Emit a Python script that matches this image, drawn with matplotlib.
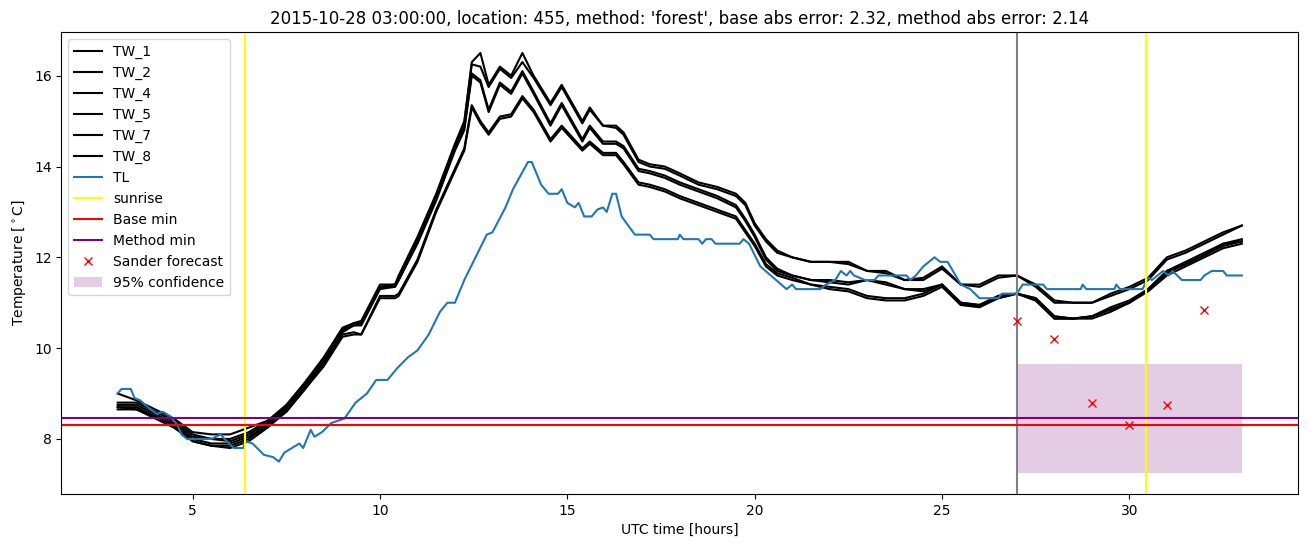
import matplotlib
matplotlib.use("Agg")
import matplotlib.pyplot as plt

title = "2015-10-28 03:00:00, location: 455, method: 'forest', base abs error: 2.32, method abs error: 2.14"

tw_hours = [3.0, 3.5, 4.0, 4.5, 5.0, 5.5, 6.0, 6.5, 7.0, 7.5, 8.0, 8.5, 9.0, 9.3, 9.5,
            10.0, 10.4, 10.5, 11.0, 11.5, 12.0, 12.25, 12.45, 12.68, 12.9, 13.2, 13.5, 13.8,
            14.1, 14.55, 14.85, 15.4, 15.6, 15.95, 16.3, 16.5, 16.9, 17.2, 17.6, 18.0, 18.5,
            19.0, 19.5, 19.75, 20.0, 20.3, 20.6, 21.0, 21.5, 22.0, 22.5, 23.0, 23.5, 24.0,
            24.5, 25.0, 25.5, 26.0, 26.5, 27.0, 27.5, 28.0, 28.5, 29.0, 29.5, 30.0, 30.5,
            31.0, 31.5, 32.0, 32.5, 33.0]

tw_1 = [9.0, 8.85, 8.65, 8.45, 8.15, 8.1, 8.1, 8.25, 8.4, 8.75, 9.25, 9.8, 10.45, 10.55, 10.6,
        11.4, 11.4, 11.6, 12.45, 13.4, 14.5, 15.0, 16.3, 16.5, 15.8, 16.2, 16.0, 16.5,
        16.0, 15.4, 15.8, 15.0, 15.3, 14.9, 14.9, 14.75, 14.15, 14.05, 14.0, 13.85, 13.65,
        13.55, 13.4, 13.2, 12.75, 12.4, 12.15, 12.0, 11.9, 11.9, 11.9, 11.7, 11.7, 11.5,
        11.55, 11.8, 11.4, 11.4, 11.6, 11.6, 11.4, 11.05, 11.0, 11.0, 11.2, 11.35, 11.55,
        12.0, 12.15, 12.35, 12.55, 12.7]
tw_2 = [8.8, 8.8, 8.6, 8.4, 8.1, 8.0, 8.0, 8.15, 8.4, 8.7, 9.2, 9.75, 10.4, 10.55, 10.55,
        11.35, 11.4, 11.55, 12.4, 13.35, 14.45, 14.95, 16.25, 16.2, 15.75, 16.15, 15.95, 16.3,
        15.95, 15.35, 15.75, 14.95, 15.25, 14.9, 14.85, 14.7, 14.1, 14.0, 13.95, 13.8, 13.6,
        13.5, 13.35, 13.15, 12.7, 12.35, 12.1, 12.0, 11.9, 11.9, 11.85, 11.7, 11.65, 11.5,
        11.5, 11.75, 11.4, 11.35, 11.55, 11.6, 11.35, 11.0, 11.0, 11.0, 11.15, 11.3, 11.5,
        11.95, 12.1, 12.3, 12.5, 12.7]
tw_4 = [8.75, 8.75, 8.55, 8.35, 8.05, 8.0, 7.95, 8.1, 8.35, 8.7, 9.2, 9.75, 10.4, 10.5, 10.55,
        11.35, 11.35, 11.5, 12.35, 13.3, 14.4, 14.85, 16.05, 15.9, 15.25, 15.85, 15.65, 16.1,
        15.65, 14.95, 15.4, 14.6, 14.9, 14.55, 14.55, 14.45, 13.95, 13.9, 13.8, 13.65, 13.5,
        13.35, 13.15, 12.85, 12.5, 12.0, 11.75, 11.6, 11.5, 11.5, 11.45, 11.5, 11.45, 11.3,
        11.3, 11.4, 11.0, 10.95, 11.15, 11.2, 11.1, 10.7, 10.65, 10.7, 10.9, 11.05, 11.3,
        11.7, 11.9, 12.1, 12.3, 12.4]
tw_5 = [8.7, 8.7, 8.5, 8.3, 8.0, 7.9, 7.9, 8.05, 8.3, 8.65, 9.15, 9.7, 10.35, 10.5, 10.5,
        11.3, 11.35, 11.5, 12.3, 13.25, 14.35, 14.8, 16.0, 15.85, 15.2, 15.8, 15.6, 16.05,
        15.6, 14.9, 15.35, 14.55, 14.85, 14.5, 14.5, 14.4, 13.9, 13.85, 13.75, 13.6, 13.45,
        13.3, 13.1, 12.8, 12.45, 11.95, 11.7, 11.6, 11.5, 11.45, 11.4, 11.5, 11.4, 11.3,
        11.25, 11.4, 10.95, 10.95, 11.1, 11.2, 11.05, 10.65, 10.65, 10.7, 10.85, 11.0, 11.3,
        11.7, 11.85, 12.05, 12.3, 12.35]
tw_7 = [8.7, 8.65, 8.5, 8.3, 7.95, 7.85, 7.85, 8.0, 8.3, 8.6, 9.1, 9.65, 10.3, 10.35, 10.3,
        11.15, 11.15, 11.2, 11.95, 13.05, 13.95, 14.4, 15.35, 15.0, 14.75, 15.1, 15.15, 15.55,
        15.25, 14.6, 14.9, 14.4, 14.55, 14.3, 14.3, 14.1, 13.65, 13.6, 13.5, 13.35, 13.2,
        13.05, 12.9, 12.6, 12.3, 11.85, 11.65, 11.55, 11.4, 11.35, 11.3, 11.15, 11.1, 11.1,
        11.2, 11.4, 11.0, 10.95, 11.15, 11.2, 11.1, 10.7, 10.65, 10.7, 10.85, 11.0, 11.3,
        11.65, 11.85, 12.05, 12.25, 12.35]
tw_8 = [8.65, 8.65, 8.45, 8.25, 7.95, 7.85, 7.8, 7.95, 8.25, 8.6, 9.1, 9.6, 10.25, 10.3, 10.3,
        11.1, 11.1, 11.15, 11.9, 13.0, 13.9, 14.35, 15.3, 14.95, 14.7, 15.05, 15.1, 15.5,
        15.2, 14.55, 14.85, 14.35, 14.5, 14.25, 14.25, 14.05, 13.6, 13.55, 13.45, 13.3, 13.15,
        13.0, 12.85, 12.55, 12.25, 11.8, 11.6, 11.5, 11.4, 11.3, 11.25, 11.1, 11.05, 11.05,
        11.15, 11.35, 10.95, 10.9, 11.1, 11.2, 11.05, 10.65, 10.65, 10.65, 10.8, 11.0, 11.25,
        11.6, 11.8, 12.0, 12.2, 12.3]

tw_labels = ["TW_1", "TW_2", "TW_4", "TW_5", "TW_7", "TW_8"]
tw_series = [tw_1, tw_2, tw_4, tw_5, tw_7, tw_8]

tl_hours = [3.0, 3.1, 3.35, 3.45, 3.6, 3.8, 4.05, 4.2, 4.4, 4.6, 4.7, 4.85, 5.5, 5.75, 5.85,
            6.1, 6.35, 6.4, 6.6, 6.9, 7.15, 7.3, 7.45, 7.65, 7.85, 7.95, 8.15, 8.25, 8.45,
            8.7, 9.05, 9.35, 9.65, 9.9, 10.2, 10.45, 10.75, 11.0, 11.3, 11.6, 11.8, 12.0,
            12.25, 12.55, 12.85, 13.0, 13.35, 13.55, 13.95, 14.05, 14.3, 14.5, 14.75, 14.85,
            15.0, 15.2, 15.3, 15.45, 15.65, 15.8, 15.95, 16.05, 16.2, 16.3, 16.45, 16.8, 17.2,
            17.3, 17.95, 18.0, 18.1, 18.5, 18.6, 18.7, 18.85, 18.95, 19.6, 19.7, 19.85, 20.15,
            20.5, 20.85, 21.0, 21.1, 21.75, 21.9, 22.15, 22.3, 22.45, 22.55, 22.65, 22.95,
            23.2, 23.3, 24.05, 24.15, 24.3, 24.5, 24.8, 24.95, 25.15, 25.5, 25.75, 26.0, 26.5,
            26.6, 27.0, 27.15, 27.7, 27.8, 28.7, 28.75, 28.85, 29.6, 29.65, 29.75, 30.35,
            30.5, 30.6, 30.9, 31.05, 31.15, 31.4, 31.9, 32.0, 32.2, 32.5, 32.6, 33.0]
tl_temp = [9.0, 9.1, 9.1, 8.9, 8.85, 8.7, 8.55, 8.6, 8.5, 8.3, 8.1, 8.0, 8.0, 8.1, 8.0,
           7.8, 7.8, 7.95, 7.9, 7.65, 7.6, 7.5, 7.7, 7.8, 7.9, 7.8, 8.2, 8.05, 8.15,
           8.35, 8.45, 8.8, 9.0, 9.3, 9.3, 9.55, 9.8, 9.95, 10.3, 10.8, 11.0, 11.0,
           11.5, 12.0, 12.5, 12.55, 13.1, 13.5, 14.1, 14.1, 13.6, 13.4, 13.4, 13.5,
           13.2, 13.1, 13.2, 12.9, 12.9, 13.05, 13.1, 13.0, 13.4, 13.4, 12.9, 12.5, 12.5,
           12.4, 12.4, 12.5, 12.4, 12.4, 12.3, 12.4, 12.4, 12.3, 12.3, 12.4, 12.3, 11.8,
           11.55, 11.3, 11.4, 11.3, 11.3, 11.4, 11.5, 11.7, 11.6, 11.7, 11.6, 11.5,
           11.5, 11.6, 11.6, 11.5, 11.6, 11.8, 12.0, 11.9, 11.9, 11.4, 11.3, 11.1, 11.1,
           11.2, 11.2, 11.4, 11.4, 11.3, 11.3, 11.4, 11.3, 11.3, 11.4, 11.3, 11.3,
           11.55, 11.5, 11.7, 11.6, 11.7, 11.5, 11.5, 11.6, 11.7, 11.7, 11.6, 11.6]

sunrise_hours = [6.4, 30.45]
forecast_start = 27.0
base_min = 8.3
method_min = 8.47
sander_hours = [27, 28, 29, 30, 31, 32]
sander_temp = [10.6, 10.2, 8.8, 8.3, 8.75, 10.85]
conf_hours = [27, 33]
conf_low = [7.25, 7.25]
conf_high = [9.65, 9.65]

fig = plt.figure(figsize=(13.11, 5.47), dpi=100)
ax = fig.add_axes([0.0469, 0.0969, 0.9432, 0.8446])

for lab, vals in zip(tw_labels, tw_series):
    ax.plot(tw_hours, vals, color="black", label=lab)
ax.plot(tl_hours, tl_temp, color="#1f77b4", label="TL")
ax.axvline(sunrise_hours[0], color="yellow", label="sunrise")
ax.axvline(sunrise_hours[1], color="yellow")
ax.axvline(forecast_start, color="gray")
ax.axhline(base_min, color="red", label="Base min")
ax.axhline(method_min, color="purple", label="Method min")
ax.plot(sander_hours, sander_temp, "x", color="red", linestyle="none", label="Sander forecast")
ax.fill_between(conf_hours, conf_low, conf_high, color="purple", alpha=0.2, linewidth=0,
                label="95% confidence")

ax.set_title(title)
ax.set_xlabel("UTC time [hours]")
ax.set_ylabel(r"Temperature [$^\circ$C]")
ax.legend(loc="upper left")

fig.savefig("out.png", dpi=100)
